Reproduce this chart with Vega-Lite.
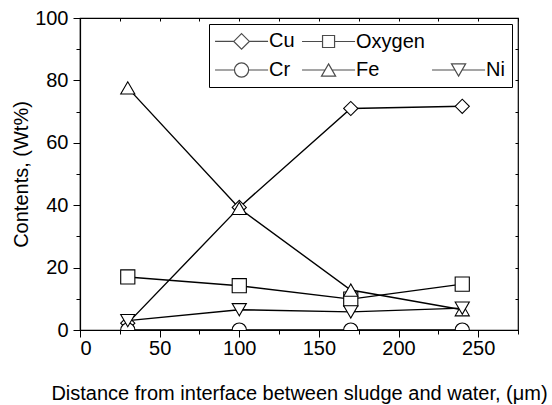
{
  "$schema": "https://vega.github.io/schema/vega-lite/v6.json",
  "width": 438,
  "height": 312,
  "autosize": "none",
  "padding": {"left": 80, "top": 18, "right": 34, "bottom": 75},
  "config": {
    "font": "Liberation Sans",
    "view": {"stroke": "black", "strokeWidth": 1.2},
    "axis": {"grid": false, "tickColor": "black", "domainColor": "black", "labelColor": "black", "titleColor": "black", "titleFontWeight": "normal"}
  },
  "data": {
    "values": [
      {"series": "Cu", "x": 30, "y": 2.2},
      {"series": "Cu", "x": 100, "y": 39.3},
      {"series": "Cu", "x": 170, "y": 71},
      {"series": "Cu", "x": 240, "y": 71.7},
      {"series": "Oxygen", "x": 30, "y": 17},
      {"series": "Oxygen", "x": 100, "y": 14.2},
      {"series": "Oxygen", "x": 170, "y": 9.9},
      {"series": "Oxygen", "x": 240, "y": 14.7},
      {"series": "Cr", "x": 30, "y": 0},
      {"series": "Cr", "x": 100, "y": 0},
      {"series": "Cr", "x": 170, "y": 0},
      {"series": "Cr", "x": 240, "y": 0},
      {"series": "Fe", "x": 30, "y": 77.6},
      {"series": "Fe", "x": 100, "y": 39},
      {"series": "Fe", "x": 170, "y": 12.8},
      {"series": "Fe", "x": 240, "y": 6.5},
      {"series": "Ni", "x": 30, "y": 3},
      {"series": "Ni", "x": 100, "y": 6.5},
      {"series": "Ni", "x": 170, "y": 5.8},
      {"series": "Ni", "x": 240, "y": 7}
    ]
  },
  "layer": [
    {
      "mark": {"type": "line", "color": "black", "strokeWidth": 1.4, "clip": true},
      "encoding": {
        "x": {
          "field": "x", "type": "quantitative",
          "scale": {"domain": [0, 275], "nice": false},
          "axis": {"orient": "bottom", "values": [0, 50, 100, 150, 200, 250], "tickSize": 7, "labelPadding": 1, "labelFontSize": 20, "domainWidth": 1.2, "tickWidth": 1, "title": "Distance from interface between sludge and water, (μm)", "titleFontSize": 20, "titlePadding": 25}
        },
        "y": {
          "field": "y", "type": "quantitative",
          "scale": {"domain": [0, 100], "nice": false},
          "axis": {"orient": "left", "values": [0, 20, 40, 60, 80, 100], "tickSize": 7, "labelPadding": 5, "labelFontSize": 20, "domainWidth": 1.2, "tickWidth": 1, "title": "Contents, (Wt%)", "titleFontSize": 20, "titlePadding": 3}
        },
        "detail": {"field": "series"}
      }
    },
    {
      "mark": {"type": "point", "filled": true, "fill": "white", "stroke": "black", "strokeWidth": 1.1, "size": 200, "opacity": 1, "clip": true},
      "encoding": {
        "x": {
          "field": "x", "type": "quantitative",
          "scale": {"domain": [0, 275], "nice": false},
          "axis": {"orient": "bottom", "values": [25, 75, 125, 175, 225, 275], "tickSize": 4, "labels": false, "domain": false, "title": null}
        },
        "y": {
          "field": "y", "type": "quantitative",
          "scale": {"domain": [0, 100], "nice": false},
          "axis": {"orient": "left", "values": [10, 30, 50, 70, 90], "tickSize": 4, "labels": false, "domain": false, "title": null}
        },
        "shape": {
          "field": "series", "type": "nominal",
          "scale": {"domain": ["Cu", "Oxygen", "Cr", "Fe", "Ni"], "range": ["diamond", "square", "circle", "triangle-up", "triangle-down"]},
          "legend": null
        }
      }
    },
    {
      "mark": {"type": "point", "shape": "stroke", "stroke": "black", "strokeWidth": 1.1, "size": 200, "strokeOpacity": 0},
      "encoding": {
        "x": {
          "field": "x", "type": "quantitative",
          "scale": {"domain": [0, 275], "nice": false},
          "axis": {"orient": "top", "values": [0, 25, 50, 75, 100, 125, 150, 175, 200, 225, 250, 275], "tickSize": -3, "labels": false, "domain": false, "title": null}
        },
        "y": {
          "field": "y", "type": "quantitative",
          "scale": {"domain": [0, 100], "nice": false},
          "axis": {"orient": "right", "values": [0, 10, 20, 30, 40, 50, 60, 70, 80, 90, 100], "tickSize": -3, "labels": false, "domain": false, "title": null}
        },
        "shape": {
          "field": "series", "type": "nominal",
          "scale": {
            "domain": ["Cu", "Cr", "Oxygen", "Fe", "_", "Ni"],
            "range": [
              "M-1.55,0H1.1M3.3,0H5.95M2.2,-1.1L3.3,0L2.2,1.1L1.1,0Z",
              "M-1.55,0H1.2M3.2,0H5.95M3.2,0A1,1 0 1,1 1.2,0A1,1 0 1,1 3.2,0Z",
              "M-1.55,0H1.35M3.05,0H5.95M1.35,-0.85H3.05V0.85H1.35Z",
              "M-1.55,0H1.7M2.7,0H5.95M2.2,-0.87L3.2,0.87L1.2,0.87Z",
              "M0,0",
              "M-1.55,0H1.7M2.7,0H5.95M2.2,0.87L3.2,-0.87L1.2,-0.87Z"
            ]
          },
          "legend": {
            "title": null,
            "orient": "top-right",
            "offset": 6,
            "columns": 3,
            "labelExpr": "datum.label == '_' ? '' : datum.label",
            "labelFontSize": 20,
            "labelColor": "black",
            "labelLimit": 200,
            "labelOffset": 33,
            "symbolSize": 200,
            "symbolStrokeColor": "black",
            "symbolFillColor": "white",
            "symbolStrokeWidth": 1.2,
            "columnPadding": 4,
            "rowPadding": 8,
            "padding": 7,
            "strokeColor": "black",
            "fillColor": "white"
          }
        }
      }
    }
  ],
  "resolve": {"axis": {"x": "independent", "y": "independent"}, "scale": {"shape": "independent"}}
}
